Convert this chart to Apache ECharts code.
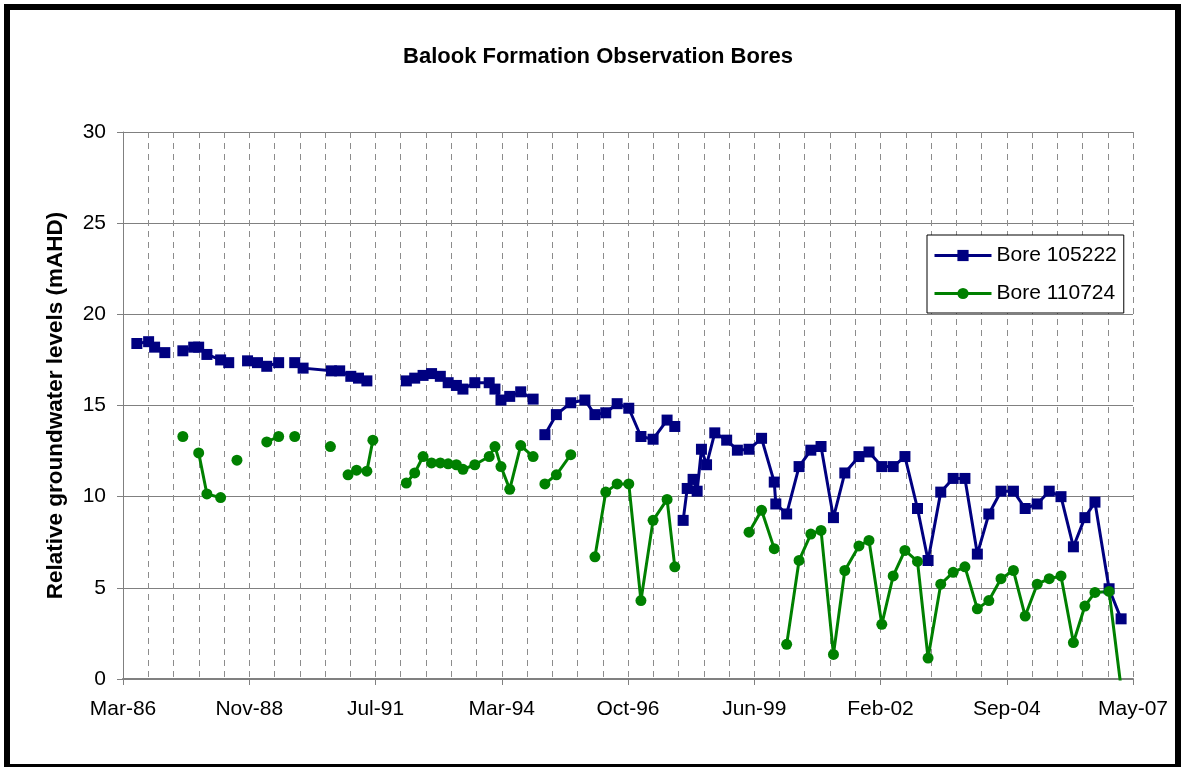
<!DOCTYPE html>
<html>
<head>
<meta charset="utf-8">
<title>Balook Formation Observation Bores</title>
<script src="https://cdn.jsdelivr.net/npm/echarts@6/dist/echarts.min.js"></script>
<style>
  html, body { margin: 0; padding: 0; background: #fff; }
  #chart { width: 1181px; height: 767px; }
</style>
</head>
<body>
<div id="chart"></div>
<script>
  // null = break in the line (missing reading)
  const bore105222Dates = [
    '1986-07-10', '1986-10-08', '1986-11-23', '1987-02-09', null,
    '1987-06-27', '1987-09-18', '1987-10-26', '1987-12-28', '1988-04-11', '1988-06-12', null,
    '1988-11-03', '1989-01-18', '1989-03-30', '1989-06-29', null,
    '1989-10-30', '1990-01-02', '1990-08-07', '1990-10-09', '1991-01-02', '1991-03-02', '1991-05-05', null,
    '1992-03-02', '1992-05-05', '1992-07-08', '1992-09-11', '1992-11-17', '1993-01-16', '1993-03-20',
    '1993-05-09', '1993-08-08', '1993-11-26', '1994-01-09', '1994-02-24', '1994-05-02', '1994-07-25',
    '1994-10-28', null,
    '1995-01-26', '1995-04-24', '1995-08-12', '1995-11-28', '1996-02-13', '1996-05-06', '1996-08-01',
    '1996-10-29', '1997-01-30', '1997-05-03', '1997-08-18', '1997-10-16', null,
    '1997-12-19', '1998-01-19', '1998-03-05', '1998-04-05', '1998-05-08', '1998-06-16', '1998-08-18',
    '1998-11-17', '1999-02-07', '1999-05-07', '1999-08-11', '1999-11-16', '1999-11-28', '2000-02-19',
    '2000-05-24', '2000-08-22', '2000-11-08', '2001-02-11', '2001-05-09', '2001-08-25', '2001-11-10',
    '2002-02-16', '2002-05-14', '2002-08-12', '2002-11-16', '2003-02-05', '2003-05-13', '2003-08-16',
    '2003-11-14', '2004-02-17', '2004-05-15', '2004-08-16', '2004-11-19', '2005-02-17', '2005-05-20',
    '2005-08-20', '2005-11-18', '2006-02-21', '2006-05-20', '2006-08-05', '2006-11-21', '2007-02-21'
  ];
  const bore105222Levels = [
    18.4, 18.5, 18.2, 17.9, null,
    18.0, 18.2, 18.2, 17.8, 17.5, 17.35, null,
    17.45, 17.35, 17.15, 17.35, null,
    17.35, 17.05, 16.9, 16.9, 16.6, 16.5, 16.35, null,
    16.35, 16.5, 16.65, 16.75, 16.6, 16.25, 16.1,
    15.9, 16.25, 16.25, 15.9, 15.3, 15.5, 15.75,
    15.35, null,
    13.4, 14.5, 15.15, 15.3, 14.5, 14.6, 15.1,
    14.85, 13.3, 13.15, 14.2, 13.85, null,
    8.7, 10.45, 10.95, 10.3, 12.6, 11.75, 13.5,
    13.1, 12.55, 12.6, 13.2, 10.8, 9.6, 9.05,
    11.65, 12.55, 12.75, 8.85, 11.3, 12.2, 12.45,
    11.65, 11.65, 12.2, 9.35, 6.5, 10.25, 11.0,
    11.0, 6.85, 9.05, 10.3, 10.3, 9.35, 9.6,
    10.3, 10.0, 7.25, 8.85, 9.7, 4.95, 3.3
  ];

  const bore110724Dates = [
    '1987-06-27', null,
    '1987-10-26', '1987-12-28', '1988-04-11', null,
    '1988-08-14', null,
    '1989-03-30', '1989-06-29', null,
    '1989-10-30', null,
    '1990-07-30', null,
    '1990-12-12', '1991-02-15', '1991-05-05', '1991-06-20', null,
    '1992-03-02', '1992-05-05', '1992-07-08', '1992-09-11', '1992-11-17', '1993-01-16', '1993-03-20',
    '1993-05-09', '1993-08-08', '1993-11-26', '1994-01-09', '1994-02-24', '1994-05-02', '1994-07-25',
    '1994-10-28', null,
    '1995-01-26', '1995-04-24', '1995-08-12', null,
    '1996-02-13', '1996-05-06', '1996-08-01', '1996-10-29', '1997-01-30', '1997-05-03', '1997-08-18',
    '1997-10-16', null,
    '1999-05-07', '1999-08-11', '1999-11-16', null,
    '2000-02-19', '2000-05-24', '2000-08-22', '2000-11-08', '2001-02-11', '2001-05-09', '2001-08-25',
    '2001-11-10', '2002-02-16', '2002-05-14', '2002-08-12', '2002-11-16', '2003-02-05', '2003-05-13',
    '2003-08-16', '2003-11-14', '2004-02-17', '2004-05-15', '2004-08-16', '2004-11-19', '2005-02-17',
    '2005-05-20', '2005-08-20', '2005-11-18', '2006-02-21', '2006-05-20', '2006-08-05', '2006-11-21',
    '2007-02-21'
  ];
  const bore110724Levels = [
    13.3, null,
    12.4, 10.15, 9.95, null,
    12.0, null,
    13.0, 13.3, null,
    13.3, null,
    12.75, null,
    11.2, 11.45, 11.4, 13.1, null,
    10.75, 11.3, 12.2, 11.85, 11.85, 11.8, 11.75,
    11.5, 11.75, 12.2, 12.75, 11.65, 10.4, 12.8,
    12.2, null,
    10.7, 11.2, 12.3, null,
    6.7, 10.25, 10.7, 10.7, 4.3, 8.7, 9.85,
    6.15, null,
    8.05, 9.25, 7.15, null,
    1.9, 6.5, 7.95, 8.15, 1.35, 5.95, 7.3,
    7.6, 3.0, 5.65, 7.05, 6.45, 1.15, 5.2,
    5.85, 6.15, 3.85, 4.3, 5.5, 5.95, 3.45,
    5.2, 5.5, 5.65, 2.0, 4.0, 4.75, 4.8,
    -0.5
  ];

  const yTicks = [0, 5, 10, 15, 20, 25, 30];
  const monthNames = ['Jan', 'Feb', 'Mar', 'Apr', 'May', 'Jun', 'Jul', 'Aug', 'Sep', 'Oct', 'Nov', 'Dec'];

  // x axis counts days from the axis start; labels every 966 days like the original
  const AXIS_START = Date.UTC(1986, 2, 26);
  const DAY = 86400000;
  const X_STEP = 966;

  function toDays(s) {
    const p = s.split('-');
    return (Date.UTC(+p[0], +p[1] - 1, +p[2]) - AXIS_START) / DAY;
  }

  function buildData(dates, levels) {
    return dates.map((d, i) => (d === null || levels[i] === null) ? ['-', '-'] : [toDays(d), levels[i]]);
  }

  function dayLabel(v) {
    const d = new Date(AXIS_START + v * DAY);
    return monthNames[d.getUTCMonth()] + '-' + String(d.getUTCFullYear()).slice(2);
  }

  const FONT = "'Liberation Sans', Arial, sans-serif";
  const dashGrid = { show: true, lineStyle: { color: '#8c8c8c', width: 1, type: [6, 5] } };

  const myChart = echarts.init(document.getElementById('chart'));

  const option = {
    animation: false,
    backgroundColor: '#fff',
    textStyle: { fontFamily: FONT },
    graphic: [{
      type: 'rect',
      shape: { x: 7, y: 7, width: 1171, height: 760 },
      style: { fill: 'none', stroke: '#000', lineWidth: 6 },
      silent: true
    }],
    title: {
      text: 'Balook Formation Observation Bores',
      left: 593,
      textAlign: 'center',
      top: 41,
      textStyle: { fontFamily: FONT, fontSize: 22, fontWeight: 'bold', color: '#000' }
    },
    legend: {
      orient: 'vertical',
      left: 927,
      top: 235,
      padding: [10, 7, 9, 6],
      itemGap: 17,
      itemWidth: 57,
      itemHeight: 14,
      backgroundColor: '#fff',
      borderColor: '#000',
      borderWidth: 1,
      lineStyle: { width: 3 },
      textStyle: { fontFamily: FONT, fontSize: 21, color: '#000' },
      data: ['Bore 105222', 'Bore 110724']
    },
    grid: { left: 123, right: 48, top: 132, bottom: 88 },
    xAxis: {
      type: 'value',
      min: 0,
      max: X_STEP * 8,
      interval: X_STEP,
      axisLine: { lineStyle: { color: '#808080', width: 2 } },
      axisTick: { show: true, length: 6, lineStyle: { color: '#808080' } },
      minorTick: { show: false, splitNumber: 5 },
      splitLine: dashGrid,
      minorSplitLine: dashGrid,
      axisLabel: {
        margin: 20,
        fontSize: 21,
        color: '#000',
        fontFamily: FONT,
        showMinLabel: true,
        showMaxLabel: true,
        formatter: dayLabel
      }
    },
    yAxis: {
      type: 'value',
      min: yTicks[0],
      max: yTicks[yTicks.length - 1],
      interval: yTicks[1] - yTicks[0],
      name: 'Relative groundwater levels (mAHD)',
      nameLocation: 'middle',
      nameGap: 56,
      nameTextStyle: { fontFamily: FONT, fontSize: 22.5, fontWeight: 'bold', color: '#000' },
      axisLine: { show: true, lineStyle: { color: '#808080', width: 1 } },
      axisTick: { show: true, length: 6, lineStyle: { color: '#808080' } },
      splitLine: { show: true, lineStyle: { color: '#808080', width: 1 } },
      axisLabel: { margin: 17, fontSize: 21, color: '#000', fontFamily: FONT }
    },
    series: [{
      name: 'Bore 105222',
      type: 'line',
      data: buildData(bore105222Dates, bore105222Levels),
      connectNulls: false,
      symbol: 'rect',
      symbolSize: 11,
      color: '#000080',
      lineStyle: { color: '#000080', width: 3 },
      itemStyle: { color: '#000080' },
      clip: true
    }, {
      name: 'Bore 110724',
      type: 'line',
      data: buildData(bore110724Dates, bore110724Levels),
      connectNulls: false,
      symbol: 'circle',
      symbolSize: 11,
      color: '#008000',
      lineStyle: { color: '#008000', width: 3 },
      itemStyle: { color: '#008000' },
      clip: true
    }]
  };

  myChart.setOption(option);
</script>
</body>
</html>
